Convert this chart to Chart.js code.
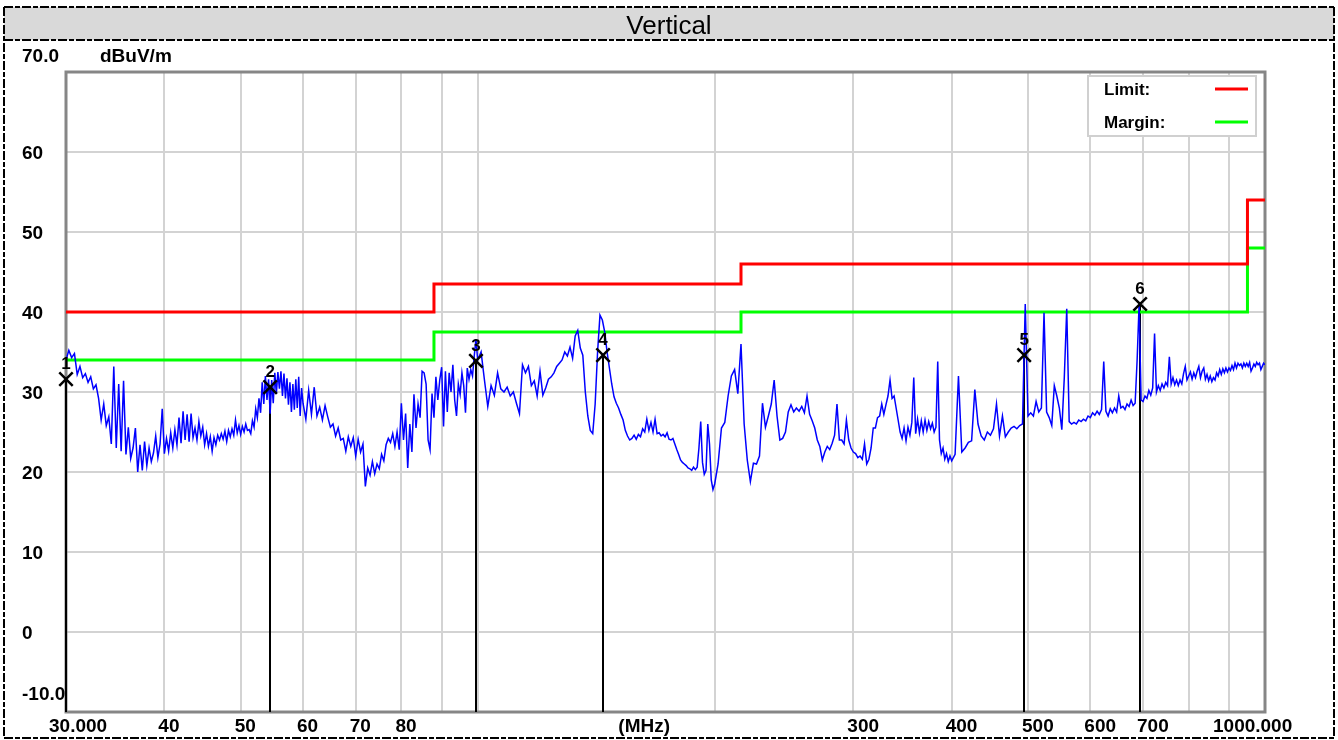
<!DOCTYPE html>
<html>
<head>
<meta charset="utf-8">
<title>Vertical</title>
<script src="https://cdn.jsdelivr.net/npm/chart.js@4.4.1/dist/chart.umd.min.js"></script>
<style>
  html, body { margin: 0; padding: 0; background: #fff; }
  #wrap { width: 1338px; height: 740px; }
</style>
</head>
<body>
<div id="wrap"><canvas id="emiChart" width="1338" height="740"></canvas></div>
<script>
// ---- values ----
const titleText = 'Vertical';
const yUnit = 'dBuV/m';
const xUnit = '(MHz)';
const xUnitAt = 150;
const yTickValues = [70, 60, 50, 40, 30, 20, 10, 0, -10];
const yTickLabels = ['70.0', '60', '50', '40', '30', '20', '10', '0', '-10.0'];
const xTickValues = [30, 40, 50, 60, 70, 80, 300, 400, 500, 600, 700, 1000];
const xTickLabels = ['30.000', '40', '50', '60', '70', '80', '300', '400', '500', '600', '700', '1000.000'];
const xGridValues = [40, 50, 60, 70, 80, 90, 100, 200, 300, 400, 500, 600, 700, 800, 900];

const limitFreq = [30, 88, 88, 216, 216, 950, 950, 1000];
const limitLevel = [40, 40, 43.5, 43.5, 46, 46, 54, 54];
const marginLevel = [34, 34, 37.5, 37.5, 40, 40, 48, 48];

const markerFreq = [30.0, 54.5, 99.5, 144.3, 494.4, 694.0];
const markerLevel = [31.6, 30.6, 33.9, 34.6, 34.6, 41.0];

// receiver sweep: each band starts at sweepStart MHz, one reading every sweepStep MHz
const sweepStart = [30, 60.5, 100, 200, 400];
const sweepStep = [0.25, 0.5, 1, 2, 4];
const levels30to60 = [
  34.0, 35.2, 34.3, 34.8, 32.2, 33.2, 31.8, 32.3, 31.2, 31.9, 30.4, 30.9,
  29.2, 26.5, 28.5, 25.8, 26.9, 23.5, 33.2, 23.0, 31.0, 22.6, 31.4, 22.2,
  25.6, 21.7, 23.0, 25.5, 20.0, 23.4, 20.2, 23.8, 20.8, 23.0, 21.3, 22.4,
  24.5, 21.8, 23.5, 27.9, 22.3, 24.2, 22.6, 24.9, 23.0, 25.3, 23.4, 26.8,
  23.6, 27.6, 24.0, 27.2, 23.8, 27.3, 24.3, 25.5, 24.0, 26.3, 24.5, 25.6,
  23.4, 24.8, 23.2, 24.4, 22.6, 24.3, 23.4, 24.6, 24.0, 24.8, 24.1, 25.1,
  23.8, 25.2, 24.4, 25.4, 24.6, 26.5, 24.9, 25.8, 24.7, 25.7, 25.0, 26.0,
  25.2, 25.3, 24.8, 26.4, 25.6, 27.9, 26.8, 29.2, 27.4, 31.2, 28.5, 32.0,
  29.0, 31.6, 27.3, 31.5, 28.6, 32.4, 29.8, 32.5, 30.4, 32.6, 29.5, 32.3,
  29.2, 31.7, 28.4, 31.2, 27.5, 31.0, 27.8, 31.6, 28.0, 31.9, 27.0, 30.5,
  28.6
];
const levels60to100 = [
  26.6, 30.2, 27.2, 30.6, 27.0, 28.1, 26.5, 28.3, 26.9, 25.6, 26.0, 24.5,
  25.5, 24.0, 24.2, 22.6, 24.4, 23.2, 24.3, 22.0, 24.1, 22.5, 23.5, 18.2,
  20.5, 19.6, 21.3, 19.8, 21.0, 20.4, 22.2, 21.4, 23.4, 24.2, 23.7, 24.8,
  23.2, 25.0, 22.8, 28.6, 24.0, 27.3, 20.5, 26.0, 22.5, 29.7, 25.5, 28.5,
  26.8, 32.6, 32.4, 31.0, 24.0, 22.8, 29.8, 26.8, 31.9, 29.0, 31.5, 33.1,
  25.7, 32.6, 27.5, 32.4, 30.0, 33.4, 29.0, 27.0, 31.0, 29.7, 32.4, 30.8,
  27.4, 33.0, 31.6, 32.8, 32.0, 34.5, 36.6
];
const levels100to200 = [
  34.0, 35.0, 31.5, 28.2, 30.8, 29.6, 32.4, 30.4, 30.0, 30.6, 29.5, 30.0,
  28.6, 27.3, 33.4, 32.4, 33.2, 30.8, 31.4, 29.5, 32.6, 29.6, 30.5, 31.6,
  31.9, 32.4, 33.2, 33.6, 34.0, 35.0, 34.5, 35.6, 34.2, 37.0, 37.7, 35.5,
  34.6, 30.0, 27.0, 25.2, 24.8, 28.5, 35.0, 39.6, 39.0, 37.5, 35.0, 33.0,
  31.0, 29.4, 28.6, 28.0, 27.2, 26.5, 25.2, 24.5, 24.0, 24.2, 24.6, 24.1,
  24.7, 24.4, 25.4, 25.0, 26.6, 25.2, 26.2, 25.0, 26.6, 24.8, 24.9, 24.5,
  24.7, 24.4, 24.9, 24.1, 24.0, 24.2, 23.5, 22.8, 22.2, 21.5, 21.2, 21.0,
  20.8, 20.5, 20.4, 20.2, 20.6, 20.3, 20.6, 23.0, 26.3, 21.2, 19.7, 20.2,
  26.0, 23.5, 19.0, 17.8
];
const levels200to400 = [
  18.5, 21.0, 25.5, 26.2, 29.5, 32.0, 32.8, 29.8, 36.0, 26.0, 21.5, 18.8,
  21.1, 21.0, 22.0, 28.6, 25.6, 27.0, 28.5, 31.5, 27.0, 24.0, 24.2, 25.0,
  27.5, 28.4, 27.5, 28.0, 27.6, 28.2, 27.4, 29.5, 27.2, 26.4, 25.5, 24.0,
  23.2, 21.5, 22.5, 23.2, 22.8, 23.6, 24.6, 28.5, 24.0, 24.0, 23.5, 26.5,
  24.0, 23.0, 22.5, 22.3, 21.8, 22.0, 21.6, 23.5, 21.0, 21.6, 23.0, 25.5,
  25.5, 26.8, 27.0, 28.5, 27.2, 28.4, 29.5, 31.5, 29.2, 29.5, 28.0, 26.5,
  25.0, 24.2, 25.5, 23.9, 25.6, 24.6, 26.2, 31.8, 24.8, 26.6, 24.9, 26.4,
  25.0, 26.5, 25.2, 26.3, 25.4, 26.1, 25.0, 25.6, 33.8, 24.0, 22.3, 23.0,
  21.6, 22.3, 21.3, 22.0
];
const levels400to1000 = [
  21.4, 22.2, 32.0, 22.5, 23.0, 23.7, 23.9, 30.3, 26.0, 24.5, 24.0, 25.0,
  24.6, 25.4, 28.5, 24.5, 27.0, 24.4, 25.0, 25.5, 25.7, 25.4, 25.8, 26.0,
  41.0, 27.0, 27.4, 27.0, 28.8, 27.5, 28.0, 39.9, 27.5, 26.8, 25.8, 30.8,
  29.5, 28.0, 25.3, 31.8, 40.4, 26.3, 26.0, 26.2, 26.0, 26.5, 26.3, 26.6,
  26.4, 27.0, 26.8, 27.4, 27.1, 27.6, 27.2, 27.8, 33.8, 27.6, 27.0, 27.9,
  27.4, 28.0, 27.5, 29.5, 28.0, 28.2, 27.8, 28.5, 28.2, 29.0, 28.3, 28.6,
  34.0, 41.0, 29.0, 28.8, 29.5, 29.2, 30.2, 29.6, 30.5, 37.3, 30.0, 30.8,
  30.2, 31.0, 30.5, 31.2, 30.8, 34.4, 31.0, 31.8, 30.9, 31.5, 30.8, 31.5,
  31.0, 32.3, 33.2, 31.5, 32.0, 32.5, 31.6, 32.4, 31.8, 32.6, 33.2, 31.8,
  32.6, 33.0, 31.6, 32.2, 31.4, 32.0, 31.3, 31.8, 31.5, 32.4, 32.0, 32.8,
  32.2, 32.9, 32.4, 33.0, 32.5, 33.0, 32.7, 33.3, 32.8, 33.6, 33.0, 33.6,
  33.3, 33.5, 33.0, 33.6, 33.2, 33.6, 33.2, 33.7, 32.6, 33.0, 33.5, 33.2,
  33.7, 33.4, 33.6, 32.8, 33.2, 33.6, 33.4
];

const sweepLevels = [levels30to60, levels60to100, levels100to200, levels200to400, levels400to1000];
const trace = [];
sweepLevels.forEach((band, b) => {
  band.forEach((v, i) => trace.push({ x: sweepStart[b] + i * sweepStep[b], y: v }));
});

const FONT = '"Liberation Sans", Arial, sans-serif';

// dashed page frame + grey title strip
const pageFrame = {
  id: 'pageFrame',
  beforeDraw(chart) {
    const ctx = chart.ctx;
    const W = chart.width, H = chart.height;
    ctx.save();
    ctx.fillStyle = '#fff';
    ctx.fillRect(0, 0, W, H);
    ctx.fillStyle = '#d9d9d9';
    ctx.fillRect(4, 7, W - 8, 33);
    ctx.strokeStyle = '#000';
    ctx.lineWidth = 2;
    ctx.setLineDash([9, 2, 5, 2]);
    ctx.beginPath();
    ctx.moveTo(4, 7); ctx.lineTo(W - 4, 7);
    ctx.moveTo(4, 40); ctx.lineTo(W - 4, 40);
    ctx.moveTo(4, 7); ctx.lineTo(4, H - 2);
    ctx.moveTo(W - 4, 7); ctx.lineTo(W - 4, H - 2);
    ctx.moveTo(4, H - 2); ctx.lineTo(W - 4, H - 2);
    ctx.stroke();
    ctx.setLineDash([]);
    ctx.fillStyle = '#000';
    ctx.font = '26px ' + FONT;
    ctx.textAlign = 'center';
    ctx.textBaseline = 'alphabetic';
    ctx.fillText(titleText, W / 2, 34);
    ctx.restore();
  }
};

// plot border, marker drop lines, marker numbers, axis text, legend box
const emiDecor = {
  id: 'emiDecor',
  beforeDatasetsDraw(chart) {
    const { ctx, chartArea: a, scales: { x, y } } = chart;
    ctx.save();
    ctx.strokeStyle = '#868686';
    ctx.lineWidth = 3;
    ctx.strokeRect(a.left, a.top, a.right - a.left, a.bottom - a.top);
    ctx.strokeStyle = '#000';
    ctx.lineWidth = 2;
    markerFreq.forEach((f, i) => {
      const px = Math.round(x.getPixelForValue(f));
      ctx.beginPath();
      ctx.moveTo(px, y.getPixelForValue(markerLevel[i]));
      ctx.lineTo(px, a.bottom);
      ctx.stroke();
    });
    ctx.restore();
  },
  afterDatasetsDraw(chart) {
    const { ctx, chartArea: a, scales: { x, y } } = chart;
    ctx.save();
    ctx.fillStyle = '#000';
    ctx.font = 'bold 17px ' + FONT;
    ctx.textAlign = 'center';
    ctx.textBaseline = 'alphabetic';
    markerFreq.forEach((f, i) => {
      ctx.fillText(String(i + 1), x.getPixelForValue(f), y.getPixelForValue(markerLevel[i]) - 10);
    });

    // legend
    const bw = 168, bh = 60;
    const bl = a.right - 9 - bw, bt = a.top + 4;
    ctx.fillStyle = '#fff';
    ctx.fillRect(bl, bt, bw, bh);
    ctx.strokeStyle = '#d0d0d0';
    ctx.lineWidth = 2;
    ctx.strokeRect(bl, bt, bw, bh);
    [chart.data.datasets[2], chart.data.datasets[3]].forEach((ds, i) => {
      const cy = bt + 13 + i * 33;
      ctx.fillStyle = '#000';
      ctx.textAlign = 'left';
      ctx.fillText(ds.label, bl + 16, cy + 6);
      ctx.strokeStyle = ds.borderColor;
      ctx.lineWidth = 3;
      ctx.beginPath();
      ctx.moveTo(bl + bw - 41, cy);
      ctx.lineTo(bl + bw - 8, cy);
      ctx.stroke();
    });
    ctx.restore();
  },
  afterDraw(chart) {
    const { ctx, chartArea: a, scales: { x, y } } = chart;
    ctx.save();
    ctx.fillStyle = '#000';
    ctx.font = 'bold 19px ' + FONT;
    ctx.textBaseline = 'alphabetic';
    ctx.textAlign = 'left';
    yTickValues.forEach((v, i) => {
      const py = y.getPixelForValue(v);
      let base = py + 7;
      if (i === 0) base = py - 10;
      if (i === yTickValues.length - 1) base = py - 12;
      ctx.fillText(yTickLabels[i], a.left - 44, base);
    });
    ctx.fillText(yUnit, a.left + 34, y.getPixelForValue(yTickValues[0]) - 10);
    const xb = a.bottom + 20;
    xTickValues.forEach((v, i) => {
      const px = x.getPixelForValue(v);
      let left = px - 6;
      if (i === 0) left = px - 17;
      if (i === xTickValues.length - 1) left = px - 52;
      ctx.fillText(xTickLabels[i], left, xb);
    });
    ctx.fillText(xUnit, x.getPixelForValue(xUnitAt) + 2, xb);
    ctx.restore();
  }
};

const gridStyle = { color: '#d3d3d3', lineWidth: 2, drawTicks: false };

new Chart(document.getElementById('emiChart').getContext('2d'), {
  type: 'line',
  data: {
    datasets: [
      {
        label: 'Markers',
        data: markerFreq.map((f, i) => ({ x: f, y: markerLevel[i] })),
        showLine: false,
        pointStyle: 'crossRot',
        pointRadius: 9.5,
        pointBorderWidth: 2.5,
        borderColor: '#000',
        backgroundColor: '#000',
        clip: false
      },
      {
        label: 'Vertical',
        data: trace,
        borderColor: '#0000ff',
        borderWidth: 1.5,
        pointRadius: 0,
        tension: 0,
        fill: false
      },
      {
        label: 'Limit:',
        data: limitFreq.map((f, i) => ({ x: f, y: limitLevel[i] })),
        borderColor: '#ff0000',
        borderWidth: 3,
        pointRadius: 0,
        fill: false
      },
      {
        label: 'Margin:',
        data: limitFreq.map((f, i) => ({ x: f, y: marginLevel[i] })),
        borderColor: '#00ff00',
        borderWidth: 3,
        pointRadius: 0,
        fill: false
      }
    ]
  },
  options: {
    responsive: false,
    devicePixelRatio: 1,
    animation: false,
    events: [],
    layout: { padding: { left: 66, top: 72, right: 73, bottom: 28 } },
    plugins: {
      legend: { display: false },
      tooltip: { enabled: false },
      title: { display: false }
    },
    scales: {
      x: {
        type: 'logarithmic',
        min: 30,
        max: 1000,
        afterBuildTicks: (axis) => { axis.ticks = xGridValues.map(v => ({ value: v })); },
        ticks: { display: false },
        grid: gridStyle,
        border: { display: false }
      },
      y: {
        type: 'linear',
        min: -10,
        max: 70,
        ticks: { display: false, stepSize: 10 },
        grid: gridStyle,
        border: { display: false }
      }
    }
  },
  plugins: [pageFrame, emiDecor]
});
</script>
</body>
</html>
